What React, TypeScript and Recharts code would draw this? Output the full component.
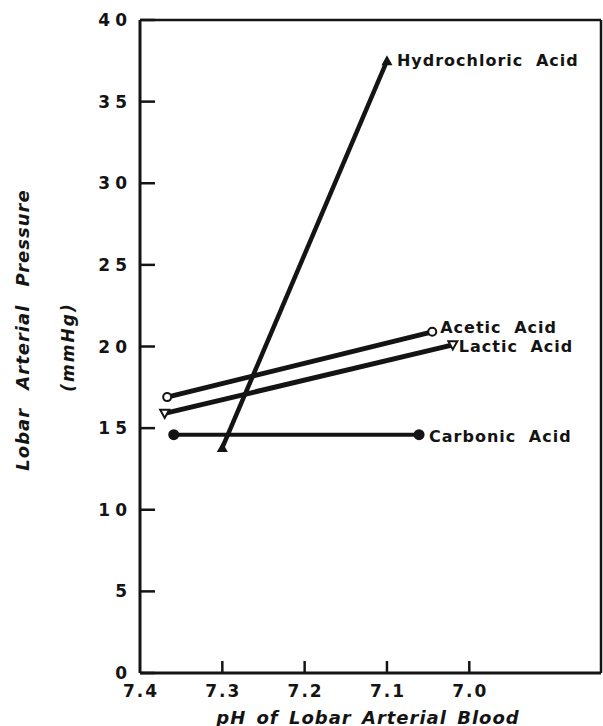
import { LabelList, Line, LineChart, ReferenceLine, XAxis, YAxis } from "recharts";

// pH of lobar arterial blood (x) and lobar arterial pressure in mmHg (y)
const hclPh = [7.3, 7.1];
const hclPressure = [13.8, 37.5];
const aceticPh = [7.367, 7.045];
const aceticPressure = [16.9, 20.9];
const lacticPh = [7.37, 7.02];
const lacticPressure = [15.9, 20.1];
const carbonicPh = [7.359, 7.061];
const carbonicPressure = [14.6, 14.6];

const X_TICKS = [7.4, 7.3, 7.2, 7.1, 7.0];
const Y_TICKS = [0, 5, 10, 15, 20, 25, 30, 35, 40];
const X_DOMAIN: [number, number] = [6.84, 7.4];

const INK = "#141414";
const FONT = "'DejaVu Sans', sans-serif";

type Row = { ph: number; pressure: number };

function toRows(ph: number[], pressure: number[]): Row[] {
  return ph.map((v, i) => ({ ph: v, pressure: pressure[i] }));
}

const hclData = toRows(hclPh, hclPressure);
const aceticData = toRows(aceticPh, aceticPressure);
const lacticData = toRows(lacticPh, lacticPressure);
const carbonicData = toRows(carbonicPh, carbonicPressure);

function YTick({ x, y, payload }: any) {
  return (
    <g>
      <line x1={x} x2={x + 15} y1={y} y2={y} stroke={INK} strokeWidth={2.5} />
      <text
        x={x - 8}
        y={y}
        textAnchor="end"
        dominantBaseline="central"
        fontFamily={FONT}
        fontWeight="bold"
        fontSize={17}
        letterSpacing={5}
        fill={INK}
      >
        {payload.value}
      </text>
    </g>
  );
}

function XTick({ x, y, payload }: any) {
  return (
    <g>
      {payload.value !== 7.4 && (
        <line x1={x} x2={x} y1={y} y2={y - 12} stroke={INK} strokeWidth={2.5} />
      )}
      <text
        x={x + 1}
        y={y + 18}
        textAnchor="middle"
        dominantBaseline="central"
        fontFamily={FONT}
        fontWeight="bold"
        fontSize={17}
        letterSpacing={2}
        fill={INK}
      >
        {payload.value.toFixed(1)}
      </text>
    </g>
  );
}

function triangle(cx: number, cy: number, s: number, down: boolean) {
  const d = down ? -1 : 1;
  return `M${cx},${cy - d * s} L${cx + s},${cy + d * s * 0.8} L${cx - s},${cy + d * s * 0.8} Z`;
}

const hclDot = ({ cx, cy, index }: any) => (
  <path key={`h${index}`} d={triangle(cx, cy, 5.5, false)} fill={INK} />
);
const aceticDot = ({ cx, cy, index }: any) => (
  <circle key={`a${index}`} cx={cx} cy={cy} r={4} fill="#fff" stroke={INK} strokeWidth={2} />
);
const lacticDot = ({ cx, cy, index }: any) => (
  <path key={`l${index}`} d={triangle(cx, cy, 4.5, true)} fill="#fff" stroke={INK} strokeWidth={2} />
);
const carbonicDot = ({ cx, cy, index }: any) => (
  <circle key={`c${index}`} cx={cx} cy={cy} r={5.5} fill={INK} />
);

function endLabel(text: string, last: number, dx: number, dy: number) {
  return ({ x, y, index }: any) =>
    index === last ? (
      <text
        x={x + dx}
        y={y + dy}
        dominantBaseline="central"
        fontFamily={FONT}
        fontWeight="bold"
        fontSize={16}
        letterSpacing={1}
        wordSpacing={6}
        fill={INK}
      >
        {text}
      </text>
    ) : null;
}

function AxisTitles() {
  return (
    <g fontFamily={FONT} fontWeight="bold" fontStyle="italic" fill={INK}>
      <text
        x={22}
        y={330}
        transform="rotate(-90 22 330)"
        textAnchor="middle"
        dominantBaseline="central"
        fontSize={18}
        letterSpacing={1}
        wordSpacing={11}
      >
        Lobar Arterial Pressure
      </text>
      <text
        x={68}
        y={347}
        transform="rotate(-90 68 347)"
        textAnchor="middle"
        dominantBaseline="central"
        fontSize={17}
        letterSpacing={2}
      >
        (mmHg)
      </text>
      <text
        x={368}
        y={717}
        textAnchor="middle"
        dominantBaseline="central"
        fontSize={18}
        letterSpacing={1}
        wordSpacing={3}
      >
        pH of Lobar Arterial Blood
      </text>
    </g>
  );
}

export default function App() {
  return (
    <div style={{ position: "absolute", left: 0, top: 0, background: "#fff" }}>
      <LineChart width={603} height={726} margin={{ top: 20, right: 2, bottom: 13, left: 90 }}>
        <XAxis
          dataKey="ph"
          type="number"
          domain={X_DOMAIN}
          reversed
          allowDataOverflow
          ticks={X_TICKS}
          interval={0}
          height={40}
          tickSize={0}
          tickMargin={0}
          tickLine={false}
          tick={<XTick />}
          axisLine={{ stroke: INK, strokeWidth: 3 }}
        />
        <YAxis
          dataKey="pressure"
          type="number"
          domain={[0, 40]}
          ticks={Y_TICKS}
          interval={0}
          width={50}
          tickSize={0}
          tickMargin={0}
          tickLine={false}
          tick={<YTick />}
          axisLine={{ stroke: INK, strokeWidth: 3 }}
          label={{ content: () => <AxisTitles /> }}
        />
        <ReferenceLine y={40} stroke={INK} strokeWidth={2.5} />
        <ReferenceLine x={X_DOMAIN[0]} stroke={INK} strokeWidth={2.5} />
        <Line
          data={carbonicData}
          dataKey="pressure"
          stroke={INK}
          strokeWidth={4}
          dot={carbonicDot}
          activeDot={false}
          isAnimationActive={false}
        >
          <LabelList dataKey="pressure" content={endLabel("Carbonic Acid", 1, 10, 2)} />
        </Line>
        <Line
          data={lacticData}
          dataKey="pressure"
          stroke={INK}
          strokeWidth={5}
          dot={lacticDot}
          activeDot={false}
          isAnimationActive={false}
        >
          <LabelList dataKey="pressure" content={endLabel("Lactic Acid", 1, 6, 2)} />
        </Line>
        <Line
          data={aceticData}
          dataKey="pressure"
          stroke={INK}
          strokeWidth={5}
          dot={aceticDot}
          activeDot={false}
          isAnimationActive={false}
        >
          <LabelList dataKey="pressure" content={endLabel("Acetic Acid", 1, 8, -4)} />
        </Line>
        <Line
          data={hclData}
          dataKey="pressure"
          stroke={INK}
          strokeWidth={4.5}
          dot={hclDot}
          activeDot={false}
          isAnimationActive={false}
        >
          <LabelList dataKey="pressure" content={endLabel("Hydrochloric Acid", 1, 10, 0)} />
        </Line>
      </LineChart>
    </div>
  );
}
